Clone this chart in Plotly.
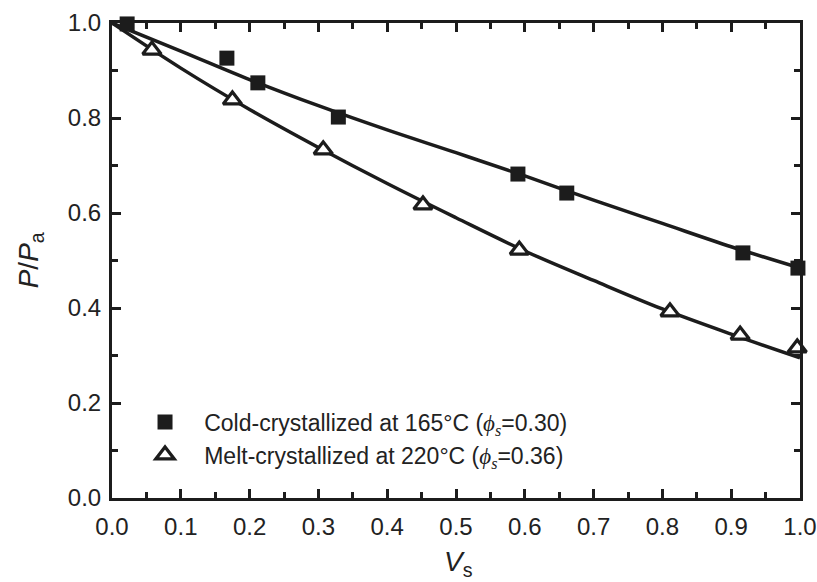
import plotly.graph_objects as go

# Measured points: cold-crystallized at 165 °C
cold_vs = [0.022, 0.167, 0.212, 0.329, 0.590, 0.661, 0.917, 0.997]
cold_p = [0.998, 0.926, 0.874, 0.802, 0.682, 0.642, 0.516, 0.484]

# Measured points: melt-crystallized at 220 °C
melt_vs = [0.022, 0.058, 0.175, 0.307, 0.452, 0.592, 0.811, 0.913, 0.996]
melt_p = [1.002, 0.943, 0.838, 0.733, 0.617, 0.522, 0.392, 0.343, 0.316]

# Fitted curves
fit_vs = [0.0, 0.1, 0.2, 0.3, 0.4, 0.5, 0.6, 0.7, 0.8, 0.9, 1.0]
cold_fit = [1.0, 0.941, 0.881, 0.826, 0.775, 0.727, 0.678, 0.627, 0.578, 0.529, 0.484]
melt_fit = [1.0, 0.905, 0.818, 0.738, 0.662, 0.590, 0.520, 0.458, 0.398, 0.345, 0.295]

INK = "#1c1c1c"
TXT = "#222222"
FONT = "Liberation Sans, Arial, Helvetica, sans-serif"
PHI = "<span style='font-family:Liberation Serif, Times New Roman, serif'><i>ϕ</i><sub><i>s</i></sub></span>"
PAD = "\u00a0" * 3

fig = go.Figure()

fig.add_trace(go.Scatter(x=fit_vs, y=cold_fit, mode="lines", line=dict(color=INK, width=3.5, shape="spline"),
                         showlegend=False, hoverinfo="skip"))
fig.add_trace(go.Scatter(x=fit_vs, y=melt_fit, mode="lines", line=dict(color=INK, width=3.5, shape="spline"),
                         showlegend=False, hoverinfo="skip"))

fig.add_trace(go.Scatter(
    x=cold_vs, y=cold_p, mode="markers", cliponaxis=False,
    marker=dict(symbol="square", size=15, color=INK, line=dict(width=0)),
    name=PAD + "Cold-crystallized at 165°C (" + PHI + "=0.30)", legend="legend",
))
fig.add_trace(go.Scatter(
    x=melt_vs, y=melt_p, mode="markers", cliponaxis=False,
    marker=dict(symbol="triangle-up", size=16, color="white", line=dict(color=INK, width=3.2)),
    name=PAD + "Melt-crystallized at 220°C (" + PHI + "=0.36)", legend="legend2",
))

fig.update_xaxes(
    range=[0, 1.0], tick0=0, dtick=0.1, tickformat=".1f",
    showline=True, linecolor=INK, linewidth=3, mirror="ticks",
    ticks="inside", ticklen=9, tickwidth=3, tickcolor=INK,
    minor=dict(ticks="inside", ticklen=6, tickwidth=3, tickcolor=INK, dtick=0.05),
    showgrid=False, zeroline=False, ticklabelstandoff=5,
    tickfont=dict(family=FONT, size=24, color=TXT),
)
fig.update_yaxes(
    range=[0, 1.0], tick0=0, dtick=0.2, tickformat=".1f",
    showline=True, linecolor=INK, linewidth=3, mirror="ticks",
    ticks="inside", ticklen=9, tickwidth=3, tickcolor=INK,
    minor=dict(ticks="inside", ticklen=6, tickwidth=3, tickcolor=INK, dtick=0.1),
    showgrid=False, zeroline=False, ticklabelstandoff=3,
    tickfont=dict(family=FONT, size=24, color=TXT),
)

legend_common = dict(
    bgcolor="rgba(0,0,0,0)", borderwidth=0, xanchor="left", yanchor="middle",
    font=dict(family=FONT, size=23, color=TXT), itemsizing="trace",
)

fig.update_layout(
    width=817, height=582,
    margin=dict(l=112, r=17, t=23, b=84, autoexpand=False),
    paper_bgcolor="white", plot_bgcolor="white",
    legend=dict(x=0.048, y=(498 - 422) / 475, **legend_common),
    legend2=dict(x=0.048, y=(498 - 455) / 475, **legend_common),
    annotations=[
        dict(text="<i>P</i>/<i>P</i><sub>a</sub>", xref="paper", yref="paper",
             x=-0.118, y=0.5, textangle=-90, showarrow=False, xanchor="center", yanchor="middle",
             font=dict(family=FONT, size=28, color=TXT)),
        dict(text="<i>V</i><sub>s</sub>", xref="paper", yref="paper",
             x=0.503, y=-0.137, showarrow=False, xanchor="center", yanchor="middle",
             font=dict(family=FONT, size=28, color=TXT)),
    ],
)

fig.write_html("out.html")
